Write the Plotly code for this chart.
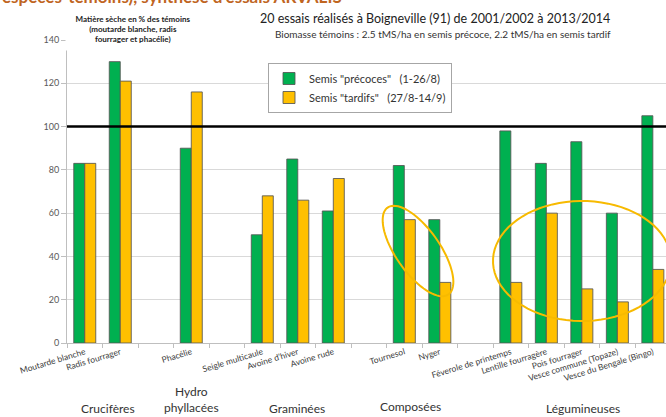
import numpy as np
import plotly.graph_objects as go

# slots on the x axis; the blank ones are the gaps between families
categories = ["Moutarde blanche", "Radis fourrager", " ", "Phacélie", "  ",
              "Seigle multicaule", "Avoine d’hiver", "Avoine rude", "   ",
              "Tournesol", "Nyger", "    ",
              "Féverole de printemps", "Lentille fourragère", "Pois fourrager",
              "Vesce commune (Topaze)", "Vesce du Bengale (Bingo)"]
precoces = [83, 130, None, 90, None, 50, 85, 61, None, 82, 57, None, 98, 83, 93, 60, 105]
tardifs = [83, 121, None, 116, None, 68, 66, 76, None, 57, 28, None, 28, 60, 25, 19, 34]

families = ["Crucifères", "Hydro<br>phyllacées", "Graminées", "Composées", "Légumineuses"]
family_pos = [108, 191, 297, 410, 583]  # pixel centres
family_y = [408, 399, 408, 407, 408]

colors = {"green": "#00B050", "yellow": "#FFC000", "ring": "#F7BA00",
          "grid": "#D9D9D9", "text": "#404040"}

W, H = 666, 417
L, R, T, B = 67, 0, 40, 74
PW, PH = W - L - R, H - T - B


def px_x(x):
    return (x - L) / PW


def px_y(y):
    return (H - B - y) / PH


def ellipse_path(cx, cy, a, b, angle_deg, n=80):
    t = np.linspace(0, 2 * np.pi, n)
    th = np.radians(angle_deg)
    xs = cx + a * np.cos(t) * np.cos(th) - b * np.sin(t) * np.sin(th)
    ys = cy + a * np.cos(t) * np.sin(th) + b * np.sin(t) * np.cos(th)
    pts = [f"{px_x(x):.4f},{px_y(y):.4f}" for x, y in zip(xs, ys)]
    return "M " + " L ".join(pts) + " Z"


font = "Lato, 'Open Sans', sans-serif"
bar_line = dict(color="rgba(85,85,85,0.85)", width=1)

fig = go.Figure()
fig.add_trace(go.Bar(x=categories, y=precoces, name='Semis "précoces"   (1-26/8)',
                     marker=dict(color=colors["green"], line=bar_line)))
fig.add_trace(go.Bar(x=categories, y=tardifs, name='Semis "tardifs"   (27/8-14/9)',
                     marker=dict(color=colors["yellow"], line=bar_line)))

fig.update_layout(
    width=W, height=H,
    margin=dict(l=L, r=R, t=T, b=B),
    paper_bgcolor="white", plot_bgcolor="white",
    font=dict(family=font, color=colors["text"]),
    barmode="group", bargap=0.38, bargroupgap=0,
    showlegend=True,
    legend=dict(x=px_x(268), y=px_y(63), xanchor="left", yanchor="top",
                bgcolor="white", bordercolor="#A6A6A6", borderwidth=1,
                font=dict(size=11, color="#333333"), tracegroupgap=0,
                itemwidth=30),
    xaxis=dict(type="category", categoryorder="array", categoryarray=categories,
               range=[-0.5, 16.37], tickson="boundaries", ticks="outside",
               ticklen=4, tickcolor="#BFBFBF", showline=True, linecolor="#BFBFBF",
               tickangle=-17, tickfont=dict(size=8.5, color="#404040"),
               showgrid=False),
    yaxis=dict(range=[0, 140], dtick=20, gridcolor=colors["grid"], gridwidth=1,
               showline=True, linecolor="#BFBFBF", ticks="outside", ticklen=5,
               tickcolor="#BFBFBF", tickfont=dict(size=9, color="#595959"),
               zeroline=False),
)

fig.add_shape(type="line", xref="paper", yref="y", x0=0, x1=1, y0=100, y1=100,
              line=dict(color="black", width=2.5))

for cx, cy, a, b, ang in [(418, 251, 53, 22, 55), (582, 261, 89, 60, 0)]:
    fig.add_shape(type="path", xref="paper", yref="paper",
                  path=ellipse_path(cx, cy, a, b, ang),
                  line=dict(color=colors["ring"], width=2))

annotations = [
    dict(text="<b>espèces-témoins), synthèse d'essais ARVALIS</b>",
         x=px_x(0), y=px_y(-3), xanchor="left", yanchor="middle",
         font=dict(size=17, color="#C0651F")),
    dict(text="<b>Matière sèche en % des témoins<br>(moutarde blanche, radis<br>fourrager et phacélie)</b>",
         x=px_x(133), y=px_y(29), xanchor="center", yanchor="middle",
         font=dict(size=8, color="#222222"), bgcolor="white", width=132, height=40),
    dict(text="20 essais réalisés à Boigneville (91) de 2001/2002 à 2013/2014",
         x=px_x(435), y=px_y(18), xanchor="center", yanchor="middle",
         font=dict(size=12.5, color="#222222"), bgcolor="white"),
    dict(text="Biomasse témoins : 2.5 tMS/ha en semis précoce, 2.2 tMS/ha en semis tardif",
         x=px_x(443), y=px_y(34), xanchor="center", yanchor="middle",
         font=dict(size=10, color="#333333"), bgcolor="white", width=390),
]
for name, xp, yp in zip(families, family_pos, family_y):
    annotations.append(dict(text=name, x=px_x(xp), y=px_y(yp), xanchor="center",
                            yanchor="middle", font=dict(size=12, color="#333333")))
for a in annotations:
    fig.add_annotation(xref="paper", yref="paper", showarrow=False, **a)

fig.write_html("out.html", config={"displayModeBar": False},
               post_script="document.body.style.margin='0';document.body.style.overflow='hidden';")
